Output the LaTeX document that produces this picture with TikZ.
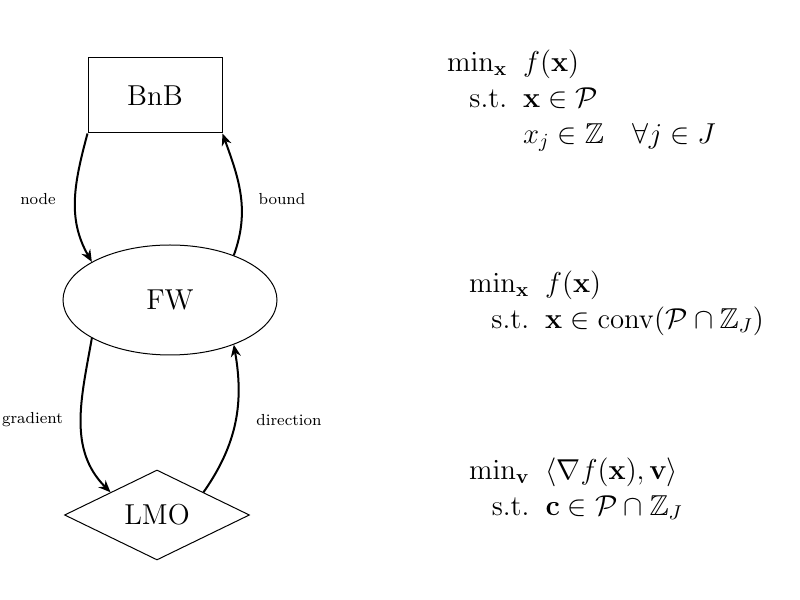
\documentclass[tikz,border=0pt]{standalone}
\usepackage{amsmath,amssymb}
\usetikzlibrary{shapes.geometric,arrows.meta}
\begin{document}
\begin{tikzpicture}[x=0.5pt,y=0.5pt,
  box/.style={draw,line width=0.5pt,inner sep=0pt,font=\Large},
  arr/.style={-{Stealth[length=6pt,width=5pt]},line width=1pt},
  lab/.style={font=\footnotesize}]
\useasboundingbox (0,0) rectangle (800,600);
\setlength{\arraycolsep}{4pt}
\node[box,rectangle,minimum width=67pt,minimum height=37.5pt] (bnb) at (155,504.5) {BnB};
\node[box,ellipse,minimum width=107pt,minimum height=55pt] (fw) at (170,300) {FW};
\node[box,diamond,aspect=2,minimum width=92.5pt,minimum height=45pt] (lmo) at (157,85) {LMO};
\draw[arr] (bnb.south west) to[out=-105,in=120] (fw.154);
\draw[arr] (fw.35) to[out=70,in=-70] (bnb.south east);
\draw[arr] (fw.206) to[out=-100,in=135] (lmo.north west);
\draw[arr] (lmo.north east) to[out=55,in=-80] (fw.-35);
\node[lab] (l1) at (38,401) {node};
\node[lab] (l2) at (282,401) {bound};
\node[lab,anchor=east] (l3) at (70,180) {gradient};
\node[lab] (l4) at (289,180) {direction};
\node[anchor=west,font=\Large] (m1) at (432,500) {$\begin{array}{rl}
 \min_{\mathbf{x}} & f(\mathbf{x})\\
 \text{s.t.} & \mathbf{x}\in\mathcal{P}\\
 & x_j\in\mathbb{Z}\quad\forall j\in J
\end{array}$};
\node[anchor=west,font=\Large] (m2) at (454,297) {$\begin{array}{rl}
 \min_{\mathbf{x}} & f(\mathbf{x})\\
 \text{s.t.} & \mathbf{x}\in\operatorname{conv}(\mathcal{P}\cap\mathbb{Z}_J)
\end{array}$};
\node[anchor=west,font=\Large] (m3) at (454,110) {$\begin{array}{rl}
 \min_{\mathbf{v}} & \langle\nabla f(\mathbf{x}),\mathbf{v}\rangle\\
 \text{s.t.} & \mathbf{c}\in\mathcal{P}\cap\mathbb{Z}_J
\end{array}$};
\end{tikzpicture}
\end{document}
